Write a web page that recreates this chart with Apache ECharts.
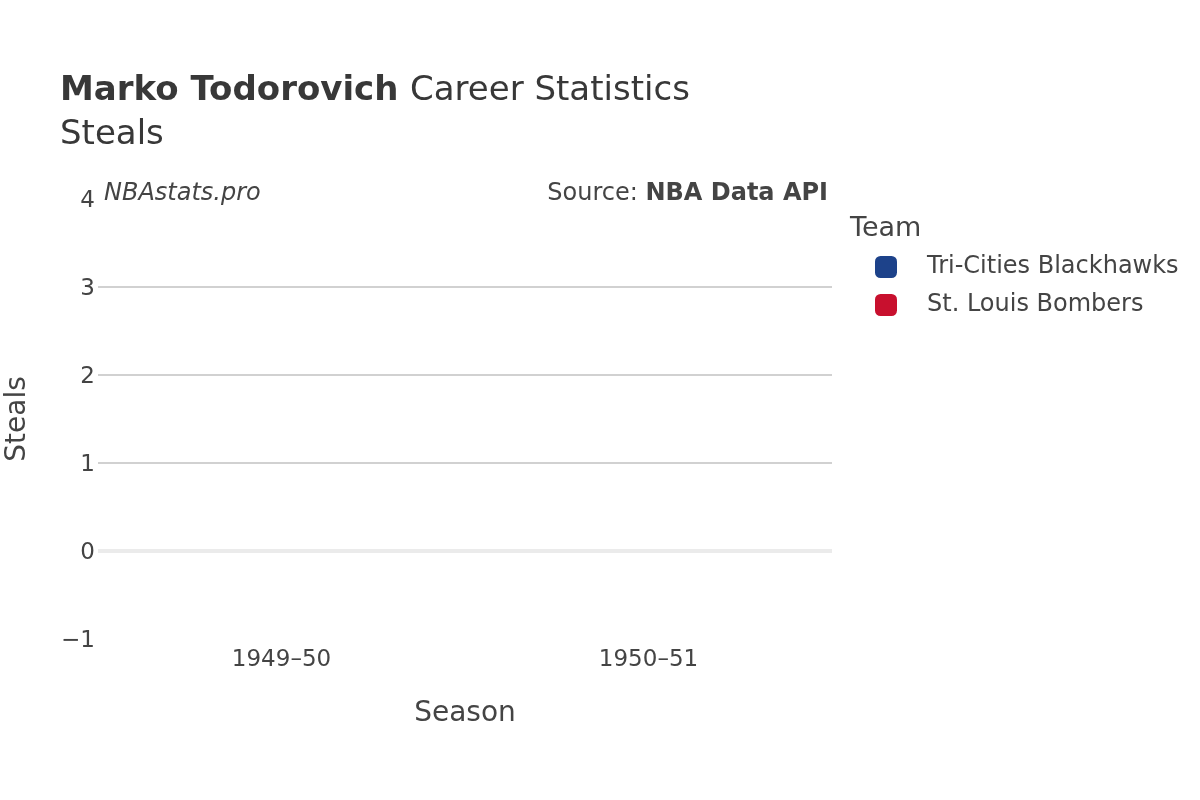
<!DOCTYPE html>
<html><head><meta charset="utf-8">
<script src="https://cdn.jsdelivr.net/npm/echarts@6/dist/echarts.min.js"></script>
<style>html,body{margin:0;padding:0;background:#fff}#c{width:1200px;height:800px}</style>
</head><body><div id="c"></div>
<script>
const seasons = ['1949\u201350', '1950\u201351'];
const teams = ['Tri-Cities Blackhawks', 'St. Louis Bombers'];
const teamColors = ['#1D428A', '#C8102E'];
const blackhawksSteals = [null, null];
const bombersSteals = [null, null];
const yTicks = { min: -1, max: 4, interval: 1 };

const FONT = 'DejaVu Sans';
const chart = echarts.init(document.getElementById('c'));
const seriesData = [blackhawksSteals, bombersSteals];
chart.setOption({
  animation: false,
  textStyle: { fontFamily: FONT },
  grid: { left: 98, right: 368, top: 199, bottom: 161, containLabel: false, outerBoundsMode: 'none' },
  xAxis: {
    type: 'category', data: seasons, boundaryGap: true,
    axisLine: { show: false }, axisTick: { show: false },
    axisLabel: { color: '#444', fontSize: 23, margin: 10, fontFamily: FONT },
    name: 'Season', nameLocation: 'middle', nameGap: 61,
    nameTextStyle: { color: '#444', fontSize: 28, fontFamily: FONT }
  },
  yAxis: {
    type: 'value', min: yTicks.min, max: yTicks.max, interval: yTicks.interval,
    axisLine: { show: false }, axisTick: { show: false },
    axisLabel: { color: '#444', fontSize: 23, margin: 3, fontFamily: FONT,
      formatter: v => '{v|' + (v < 0 ? '\u2212' + Math.abs(v) : String(v)) + '}',
      rich: { v: { color: '#444', fontSize: 23, fontFamily: FONT, padding: [5, 0, 0, 0] } } },
    splitLine: { show: true, showMinLine: false, showMaxLine: false, lineStyle: { color: '#c2c2c2', width: 1.5 } },
    name: 'Steals', nameLocation: 'middle', nameGap: 66, nameRotate: 90,
    nameTextStyle: { color: '#444', fontSize: 28, fontFamily: FONT }
  },
  legend: {
    orient: 'vertical', left: 870, top: 250, itemGap: 14,
    itemWidth: 22, itemHeight: 22, icon: 'roundRect',
    textStyle: { color: '#444', fontSize: 24, fontFamily: FONT, padding: [0, 0, 0, 25] },
    data: teams
  },
  series: teams.map((t, i) => ({
    name: t, type: 'bar', data: seriesData[i],
    itemStyle: { color: teamColors[i] },
    markLine: i === 0 ? {
      silent: true, symbol: 'none', label: { show: false },
      lineStyle: { color: '#ebebeb', width: 4, type: 'solid' },
      data: [{ yAxis: 0 }]
    } : undefined
  })),
  graphic: [
    { type: 'text', left: 60, top: 74, style: { text: 'Marko Todorovich', font: 'bold 34px "DejaVu Sans"', fill: '#383838' } },
    { type: 'text', left: 410, top: 74, style: { text: 'Career Statistics', font: '34px "DejaVu Sans"', fill: '#383838' } },
    { type: 'text', left: 60, top: 118, style: { text: 'Steals', font: '34px "DejaVu Sans"', fill: '#383838' } },
    { type: 'text', left: 104, top: 182, style: { text: 'NBAstats.pro', font: 'italic 24px "DejaVu Sans"', fill: '#444' } },
    { type: 'text', right: 372, top: 182, style: { text: '{a|Source: }{b|NBA Data API}', rich: { a: { font: '24px "DejaVu Sans"', fill: '#444' }, b: { font: 'bold 24px "DejaVu Sans"', fill: '#444' } } } },
    { type: 'text', left: 850, top: 215, style: { text: 'Team', font: '27px "DejaVu Sans"', fill: '#444' } }
  ]
});
</script></body></html>
